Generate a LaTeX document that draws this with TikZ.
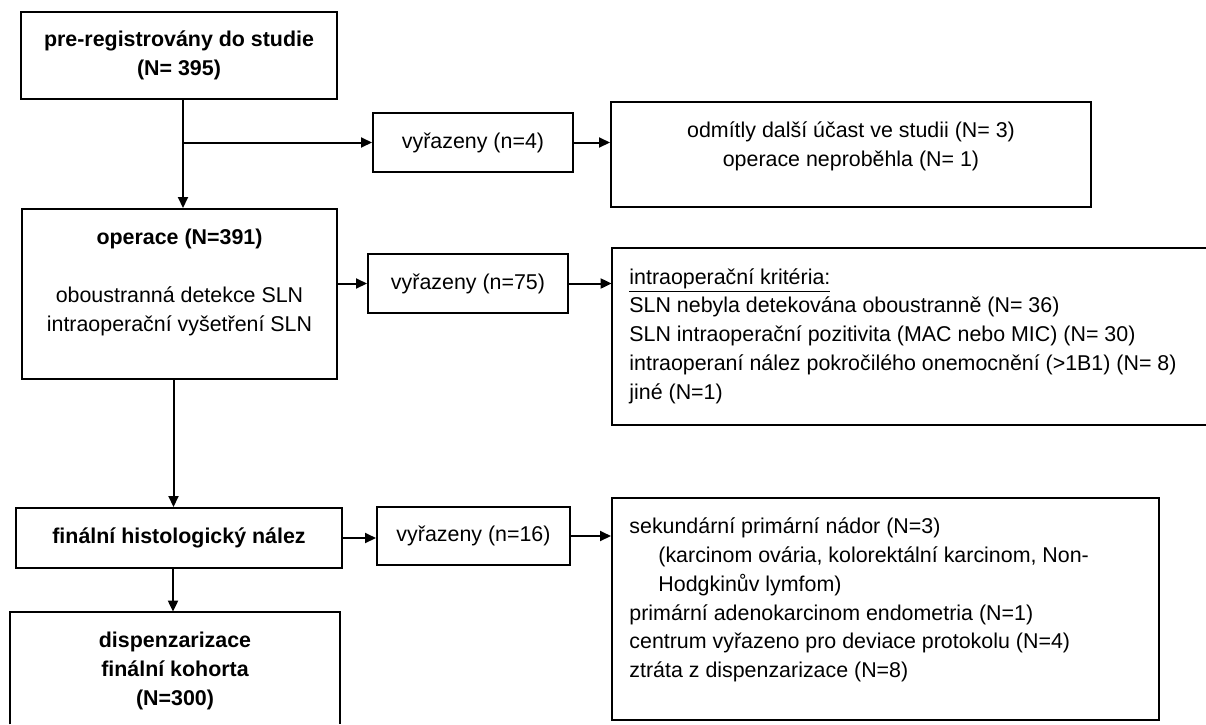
\documentclass[tikz,border=0pt]{standalone}
\usepackage{fontspec}
\setmainfont{Liberation Sans}
\usetikzlibrary{arrows.meta}

\begin{document}
\begin{tikzpicture}[x=0.5pt,y=-0.5pt,
  font=\fontsize{10.7}{14.4}\selectfont,
  boldtxt/.style={font=\fontsize{10.7}{14.4}\selectfont\bfseries},
  box/.style={draw, line width=1pt, inner sep=0pt, align=center},
  bare/.style={inner sep=0pt},
  txt/.style={inner sep=0pt, align=center},
  listtxt/.style={inner sep=0pt, align=left, anchor=west},
  arr/.style={line width=1pt, -{Triangle[length=5.5pt,width=5pt]}}]
  \useasboundingbox (0,0) rectangle (1206,724);

  \node[box, boldtxt, minimum width=158pt, minimum height=43.5pt] (reg) at (179,55.5) {pre-registrovány do studie\\(N= 395)};
  \node[box, minimum width=157.5pt, minimum height=85pt] (oper) at (179.5,294) {};
  \node[txt] (oper-t) at (179.5,282.5) {\textbf{operace (N=391)}\\[14.4pt]oboustranná detekce SLN\\intraoperační vyšetření SLN};
  \node[box, boldtxt, minimum width=163pt, minimum height=30pt] (hist) at (179,538) {finální histologický nález};
  \node[bare, minimum width=165pt, minimum height=56pt] (disp) at (175,668) {};
  \draw[line width=1pt] (disp.south west) -- (disp.north west) -- (disp.north east) -- (disp.south east);
  \node[txt, boldtxt] (disp-t) at (175,671) {dispenzarizace\\finální kohorta\\(N=300)};

  \node[box, minimum width=100pt, minimum height=29.5pt] (vyr1) at (473,142.5) {vyřazeny (n=4)};
  \node[box, minimum width=100pt, minimum height=29.5pt] (vyr2) at (468,283.5) {vyřazeny (n=75)};
  \node[box, minimum width=96.5pt, minimum height=29pt] (vyr3) at (473.5,536) {vyřazeny (n=16)};

  \node[box, minimum width=240pt, minimum height=52.5pt] (odm) at (851,154.5) {};
  \node[txt] (odm-t) at (851,146) {odmítly další účast ve studii (N= 3)\\operace neproběhla (N= 1)};
  \node[bare, minimum width=297pt, minimum height=88.5pt] (krit) at (909,336.5) {};
  \draw[line width=1pt] (krit.north east) -- (krit.north west) -- (krit.south west) -- (krit.south east);
  \node[listtxt] (krit-t) at (629,336) {\underline{intraoperační kritéria:}\\SLN nebyla detekována oboustranně (N= 36)\\SLN intraoperační pozitivita (MAC nebo MIC) (N= 30)\\intraoperaní nález pokročilého onemocnění (>1B1) (N= 8)\\jiné (N=1)};
  \node[box, minimum width=273.5pt, minimum height=111pt] (nador) at (885.5,609) {};
  \node[listtxt] (nador-t) at (629,600) {sekundární primární nádor (N=3)\\\hspace*{14.5pt}(karcinom ovária, kolorektální karcinom, Non-\\\hspace*{14.5pt}Hodgkinův lymfom)\\primární adenokarcinom endometria (N=1)\\centrum vyřazeno pro deviace protokolu (N=4)\\ztráta z dispenzarizace (N=8)};

  \draw[arr] ([xshift=2pt]reg.south) -- ([xshift=2pt]reg.south |- oper.north);
  \draw[arr] ([xshift=2pt]reg.south |- vyr1.west) -- (vyr1.west);
  \draw[arr] (vyr1.east) -- (vyr1.east -| odm.west);
  \draw[arr] (oper.east |- vyr2.west) -- (vyr2.west);
  \draw[arr] (vyr2.east) -- (vyr2.east -| krit.west);
  \draw[arr] ([xshift=-3pt]oper.south) -- ([xshift=-3pt]oper.south |- hist.north);
  \draw[arr] (hist.east) -- (hist.east -| vyr3.west);
  \draw[arr] (vyr3.east) -- (vyr3.east -| nador.west);
  \draw[arr] ([xshift=-3pt]hist.south) -- ([xshift=-3pt]hist.south |- disp.north);
\end{tikzpicture}
\end{document}
